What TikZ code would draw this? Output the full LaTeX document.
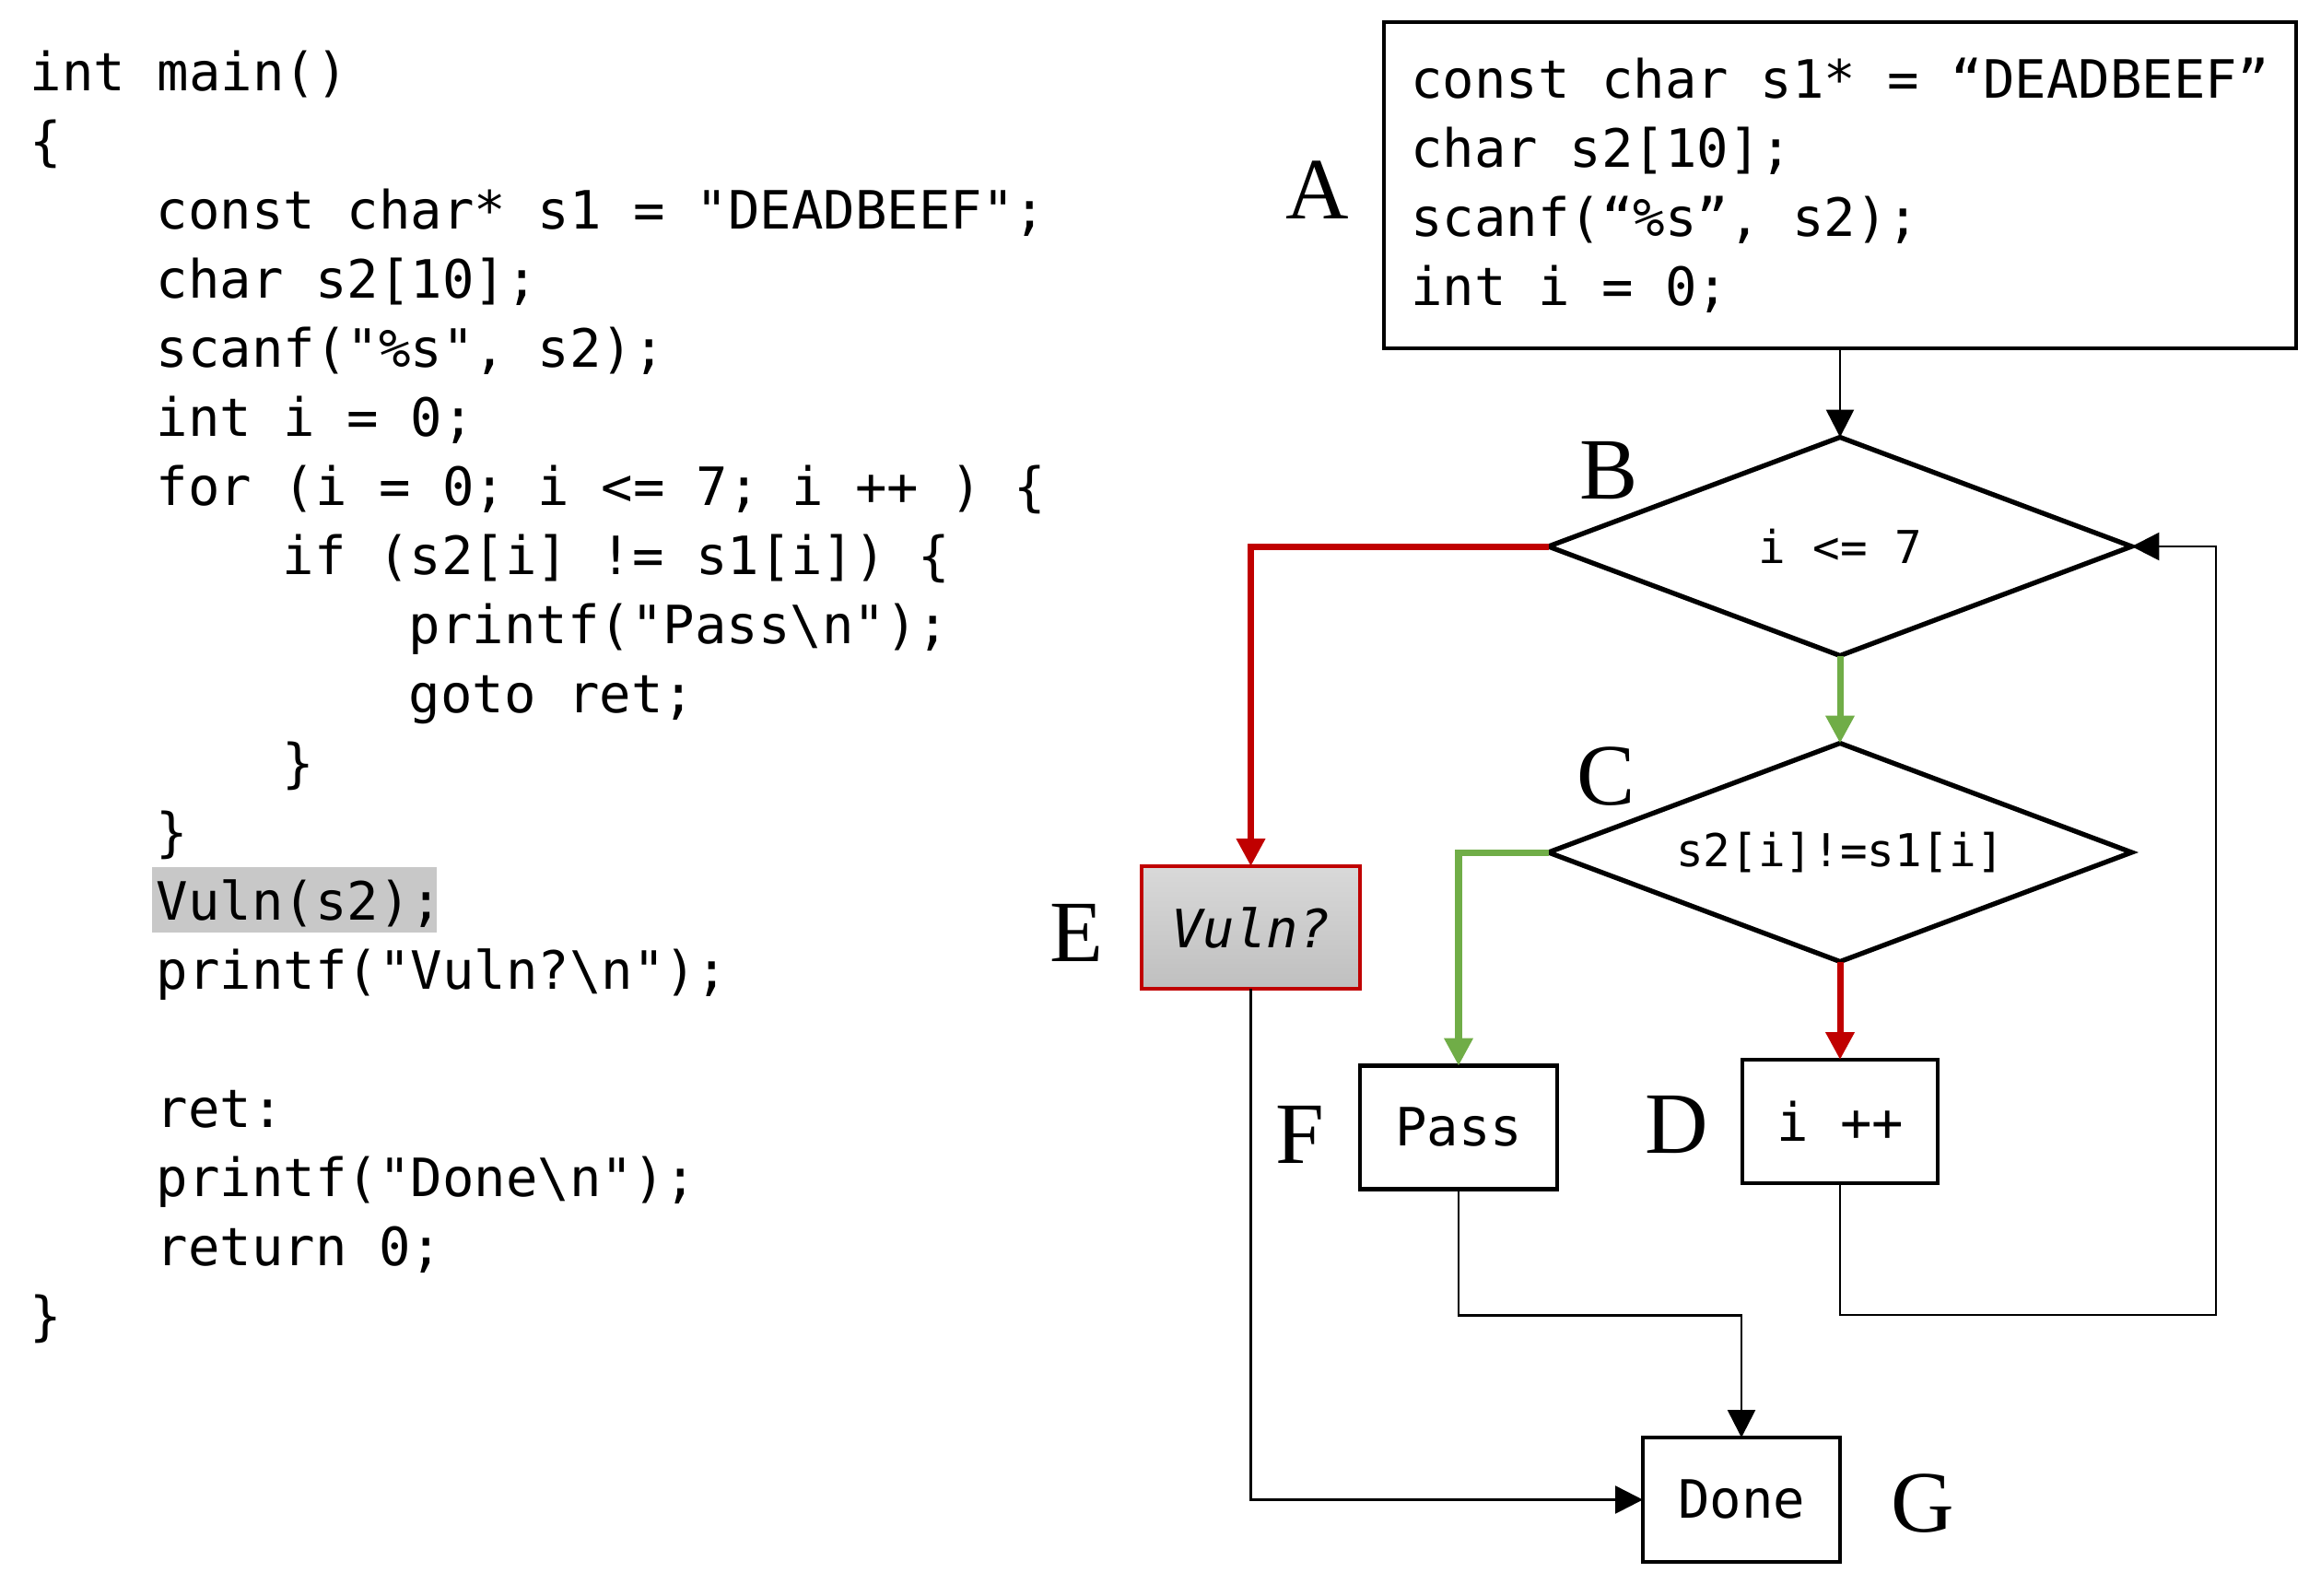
\documentclass[tikz,border=0pt]{standalone}
\usepackage{fontspec}
\setmainfont{Liberation Serif}
\setmonofont{DejaVu Sans Mono}
\usetikzlibrary{arrows.meta,shapes.geometric}

\definecolor{cfgred}{HTML}{C00000}
\definecolor{cfggreen}{HTML}{70AD47}
\definecolor{hlgray}{HTML}{C8C8C8}

\newcommand{\codefont}{\ttfamily\fontsize{16.3pt}{21.3pt}\selectfont}
\newcommand{\condfont}{\ttfamily\fontsize{14pt}{17pt}\selectfont}
\frenchspacing

\begin{document}
\begin{tikzpicture}[
  >={Triangle[length=8.5pt,width=8.5pt]},
  code/.style={font=\codefont,anchor=base west,inner sep=0pt},
  blk/.style={draw,line width=1.2pt,font=\codefont,minimum width=2.14cm,
    minimum height=1.34cm,inner sep=0pt,outer sep=0pt},
  test/.style={diamond,draw,line width=1.5pt,font=\condfont,aspect=2.67,
    minimum width=6.33cm,minimum height=2.37cm,inner sep=0pt,outer sep=0pt},
  flow/.style={->,line width=0.75pt},
  taken/.style={->,cfggreen,line width=2pt},
  nottaken/.style={->,cfgred,line width=2pt},
  tag/.style={font=\fontsize{27pt}{30pt}\selectfont}
]
  \useasboundingbox (0,0) rectangle (25.19,-17.31);

  % source listing
  \fill[hlgray] (1.65,-9.41) rectangle (4.74,-10.12);
  \foreach \nr/\lvl/\src in {
      1/0/{int main()},
      2/0/{\{},
      3/1/{const char* s1 = "DEADBEEF";},
      4/1/{char s2[10];},
      5/1/{scanf("\%s", s2);},
      6/1/{int i = 0;},
      7/1/{for (i = 0; i <= 7; i ++ ) \{},
      8/2/{if (s2[i] != s1[i]) \{},
      9/3/{printf("Pass\textbackslash n");},
      10/3/{goto ret;},
      11/2/{\}},
      12/1/{\}},
      13/1/{Vuln(s2);},
      14/1/{printf("Vuln?\textbackslash n");},
      16/1/{ret:},
      17/1/{printf("Done\textbackslash n");},
      18/1/{return 0;},
      19/0/{\}}}
    \node[code] (src\nr) at ({0.32+1.37*\lvl},{-0.98-0.75*(\nr-1)}) {\src};

  % control flow graph
  \node[draw,line width=1.3pt,font=\codefont,align=left,minimum width=9.9cm,
    minimum height=3.54cm,outer sep=0pt] (decl) at (19.97,-2.01)
    {const char s1* = “DEADBEEF”\\ char s2[10];\\ scanf(“\%s”, s2);\\ int i = 0;};
  \node[test] (loopchk) at (19.97,-5.93) {i <= 7};
  \node[test] (cmpchk) at (19.97,-9.25) {s2[i]!=s1[i]};
  \node[blk,draw=cfgred,line width=1pt,top color=gray!30,bottom color=gray!50,
    font=\codefont\itshape,minimum width=2.37cm,minimum height=1.33cm] (vuln) at (13.575,-10.065) {Vuln?};
  \node[blk] (pass) at (15.83,-12.235) {Pass};
  \node[blk,minimum width=2.12cm] (incr) at (19.97,-12.17) {i ++};
  \node[blk,minimum height=1.35cm] (done) at (18.90,-16.275) {Done};

  \node[tag] (tagA) at (14.30,-2.06) {A};
  \node[tag] (tagB) at (17.46,-5.11) {B};
  \node[tag] (tagC) at (17.43,-8.43) {C};
  \node[tag] (tagD) at (18.20,-12.21) {D};
  \node[tag] (tagE) at (11.68,-10.12) {E};
  \node[tag] (tagF) at (14.11,-12.31) {F};
  \node[tag] (tagG) at (20.87,-16.32) {G};

  \coordinate (back) at (24.05,-14.27);
  \draw[flow] (decl.south) -- (loopchk.north);
  \draw[nottaken] (loopchk.west) -| (vuln.north);
  \draw[taken] (loopchk.south) -- (cmpchk.north);
  \draw[taken] (cmpchk.west) -| (pass.north);
  \draw[nottaken] (cmpchk.south) -- (incr.north);
  \draw[flow] (incr.south) |- (back) |- (loopchk.east);
  \draw[flow] (pass.south) -- ++(0,-1.37) -| (done.north);
  \draw[flow] (vuln.south) |- (done.west);
\end{tikzpicture}
\end{document}
